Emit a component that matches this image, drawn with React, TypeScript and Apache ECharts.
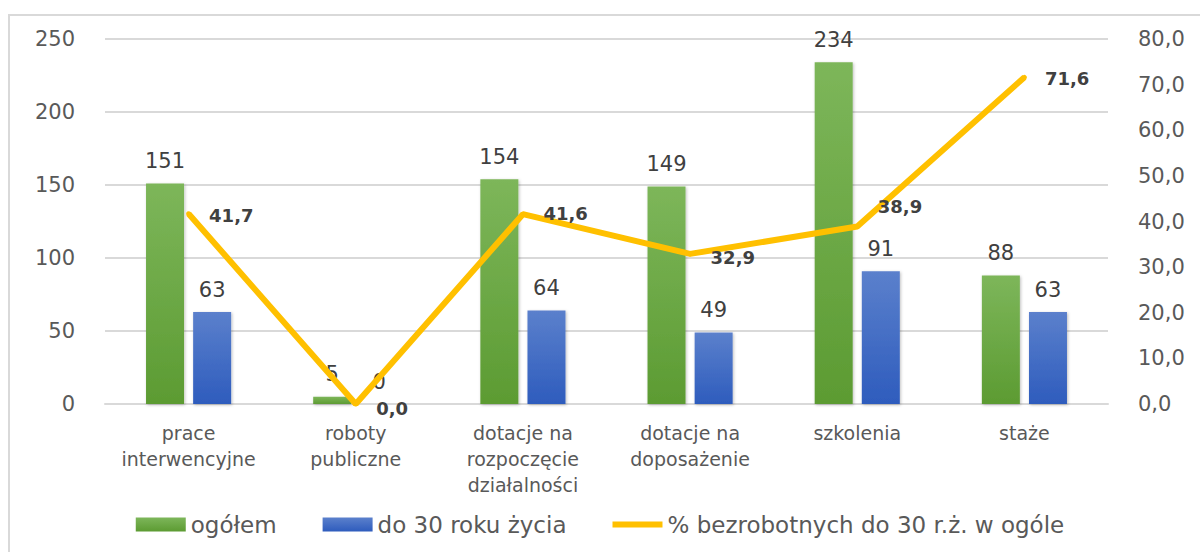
import React, { useEffect, useRef } from "react";
import * as echarts from "echarts";

const categories = [
  "prace\ninterwencyjne",
  "roboty\npubliczne",
  "dotacje na\nrozpoczęcie\ndziałalności",
  "dotacje na\ndoposażenie",
  "szkolenia",
  "staże",
];
const ogolem = [151, 5, 154, 149, 234, 88];
const do30 = [63, 0, 64, 49, 91, 63];
const procent = [41.7, 0.0, 41.6, 32.9, 38.9, 71.6];
const seriesNames = ["ogółem", "do 30 roku życia", "% bezrobotnych do 30 r.ż. w ogóle"];
const leftTicks = { min: 0, max: 250, interval: 50 };
const rightTicks = { min: 0, max: 80, interval: 10 };

const FONT = "DejaVu Sans";
const TXT = "#595959";

export default function App() {
  const ref = useRef<HTMLDivElement>(null);
  useEffect(() => {
    const chart = echarts.init(ref.current!, undefined, { renderer: "svg" });
    const fmt = (v: number) => v.toFixed(1).replace(".", ",");
    const lineLabelOffsets: [number, number][] = [
      [0, 2],
      [0, 4],
      [0, -1],
      [0, 4],
      [0, -20],
      [0, 1],
    ];
    chart.setOption({
      animation: false,
      textStyle: { fontFamily: FONT },
      graphic: [
        {
          type: "rect",
          shape: { x: 9, y: 15, width: 1300, height: 700 },
          style: { fill: "none", stroke: "#d9d9d9", lineWidth: 2 },
          silent: true,
          z: -10,
        },
      ],
      grid: { left: 105, right: 92, top: 39, bottom: 148 },
      legend: {
        bottom: 11,
        left: "center",
        itemWidth: 50,
        itemHeight: 14,
        itemGap: 46,
        textStyle: { fontSize: 23, color: TXT, fontFamily: FONT },
        data: [
          { name: seriesNames[0], icon: "rect" },
          { name: seriesNames[1], icon: "rect" },
          {
            name: seriesNames[2],
            icon: "path://M0,0 L50,0 L50,6 L0,6 Z",
            itemStyle: { color: "#ffc000" },
          },
        ],
      },
      xAxis: {
        type: "category",
        data: categories,
        axisTick: { show: false },
        axisLine: { lineStyle: { color: "#d9d9d9", width: 2 } },
        axisLabel: {
          fontSize: 19,
          color: TXT,
          lineHeight: 26,
          margin: 16,
          interval: 0,
        },
      },
      yAxis: [
        {
          type: "value",
          ...leftTicks,
          axisLabel: { fontSize: 21, color: TXT, margin: 30 },
          splitLine: { lineStyle: { color: "#d9d9d9", width: 2 } },
          axisLine: { show: false },
          axisTick: { show: false },
        },
        {
          type: "value",
          ...rightTicks,
          position: "right",
          axisLabel: { fontSize: 21, color: TXT, margin: 30, formatter: fmt },
          splitLine: { show: false },
          axisLine: { show: false },
          axisTick: { show: false },
        },
      ],
      series: [
        {
          name: seriesNames[0],
          type: "bar",
          data: ogolem,
          barWidth: 38,
          barGap: "24%",
          itemStyle: {
            color: new echarts.graphic.LinearGradient(0, 0, 0, 1, [
              { offset: 0, color: "#7db65a" },
              { offset: 1, color: "#5c9b32" },
            ]),
            shadowColor: "rgba(0,0,0,0.25)",
            shadowBlur: 3,
            shadowOffsetX: 1,
            shadowOffsetY: 1,
          },
          label: { show: true, position: "top", distance: 12, fontSize: 21, color: "#404040" },
        },
        {
          name: seriesNames[1],
          type: "bar",
          data: do30,
          barWidth: 38,
          itemStyle: {
            color: new echarts.graphic.LinearGradient(0, 0, 0, 1, [
              { offset: 0, color: "#5b80cc" },
              { offset: 1, color: "#2e5cbd" },
            ]),
            shadowColor: "rgba(0,0,0,0.25)",
            shadowBlur: 3,
            shadowOffsetX: 1,
            shadowOffsetY: 1,
          },
          label: { show: true, position: "top", distance: 12, fontSize: 21, color: "#404040" },
        },
        {
          name: seriesNames[2],
          type: "line",
          yAxisIndex: 1,
          data: procent.map((v, i) => ({
            value: v,
            label: { offset: lineLabelOffsets[i] },
          })),
          symbol: "circle",
          symbolSize: 5,
          showSymbol: true,
          lineStyle: { color: "#ffc000", width: 6 },
          itemStyle: { color: "#ffc000" },
          z: 5,
          label: {
            show: true,
            position: "right",
            distance: 18,
            fontSize: 18,
            fontWeight: "bold",
            color: "#404040",
            formatter: (p: any) => fmt(p.value),
          },
        },
      ],
    });
    return () => chart.dispose();
  }, []);
  return (
    <div
      ref={ref}
      style={{ position: "fixed", left: 0, top: 0, width: 1200, height: 552, background: "#fff" }}
    />
  );
}
